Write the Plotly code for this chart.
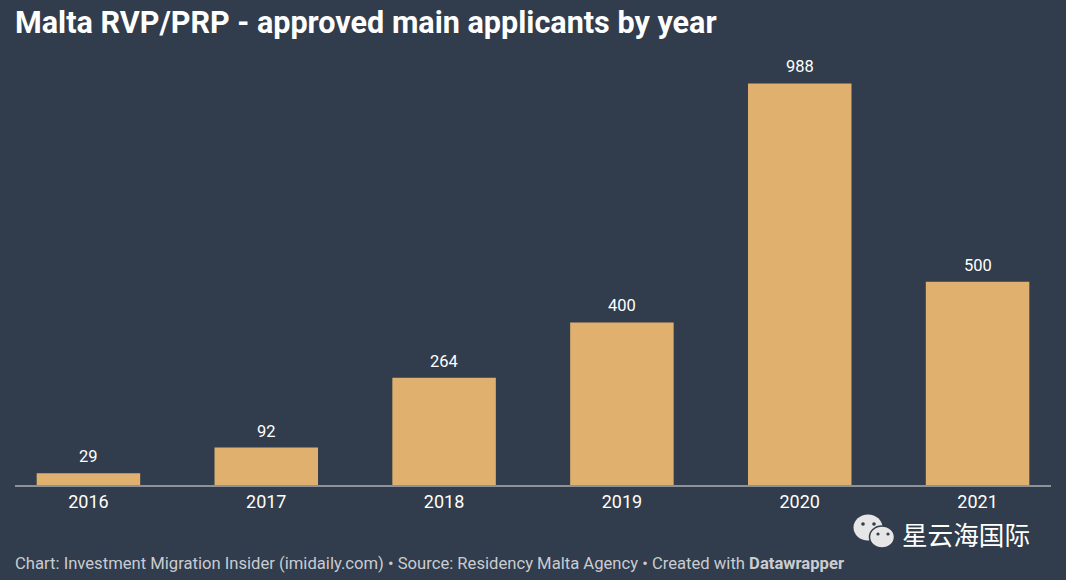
import plotly.graph_objects as go

years = ["2016", "2017", "2018", "2019", "2020", "2021"]
values = [29, 92, 264, 400, 988, 500]
title = "<b>Malta RVP/PRP - approved main applicants by year</b>"
footer = "Chart: Investment Migration Insider (imidaily.com) • Source: Residency Malta Agency • Created with <b>Datawrapper</b>"
watermark = "星云海国际"

W, H = 1066, 580
L, R, T, B = 15, 1051, 60, 485
BG = "#313c4c"
BAR = "#e0b16e"


def px(x):
    return (x - L) / (R - L)


def py(y):
    return (B - y) / (B - T)


def oval(cx, cy, rx, ry, fill, line=None):
    return dict(type="circle", xref="paper", yref="paper", layer="above",
                x0=px(cx - rx), x1=px(cx + rx), y0=py(cy + ry), y1=py(cy - ry),
                fillcolor=fill, line=dict(width=1.5 if line else 0, color=line or fill))


ICON = "#e6e6e6"
shapes = [
    oval(868, 527.5, 14.5, 13, ICON),
    oval(882, 537, 12.5, 11, ICON, BG),
    oval(863, 524, 1.8, 1.8, BG),
    oval(874, 524, 1.8, 1.8, BG),
    oval(878, 534, 1.6, 1.6, BG),
    oval(888, 534, 1.6, 1.6, BG),
]

annotations = [
    dict(text=title, xref="paper", yref="paper", x=0, y=py(23), xshift=-2,
         xanchor="left", yanchor="middle", showarrow=False,
         font=dict(family="Roboto", size=30.55, color="#ffffff")),
    dict(text=footer, xref="paper", yref="paper", x=0, y=py(563), xshift=-2,
         xanchor="left", yanchor="middle", showarrow=False,
         font=dict(family="Roboto", size=16.64, color="#c9ccd1")),
    dict(text=watermark, xref="paper", yref="paper", x=px(1031.5), y=py(533),
         xanchor="right", yanchor="middle", showarrow=False,
         font=dict(family="Noto Sans CJK SC", size=25.6, color="#ffffff")),
]
for i, v in enumerate(values):
    annotations.append(dict(text=str(v), x=i, y=v, xref="x", yref="y",
                            yanchor="bottom", yshift=5, showarrow=False,
                            font=dict(family="Roboto", size=16.5, color="#ffffff")))

fig = go.Figure(go.Bar(
    x=years, y=values, marker=dict(color=BAR, line=dict(width=0)),
    width=0.582, hoverinfo="skip",
))
fig.update_layout(
    width=W, height=H, autosize=False,
    paper_bgcolor=BG, plot_bgcolor=BG, showlegend=False,
    margin=dict(l=L, r=W - R, t=T, b=H - B, pad=0),
    font=dict(family="Roboto"),
    xaxis=dict(type="category", range=[-0.413, 5.413], showgrid=False, zeroline=False,
               showline=True, linecolor="#8d929a", linewidth=1.5, ticks="",
               tickfont=dict(family="Roboto", size=18, color="#ffffff")),
    yaxis=dict(visible=False, range=[0, 1045.8]),
    annotations=annotations,
    shapes=shapes,
)
fig.write_html("out.html", config=dict(displayModeBar=False),
               post_script="document.body.style.margin='0';document.body.style.overflow='hidden';")
